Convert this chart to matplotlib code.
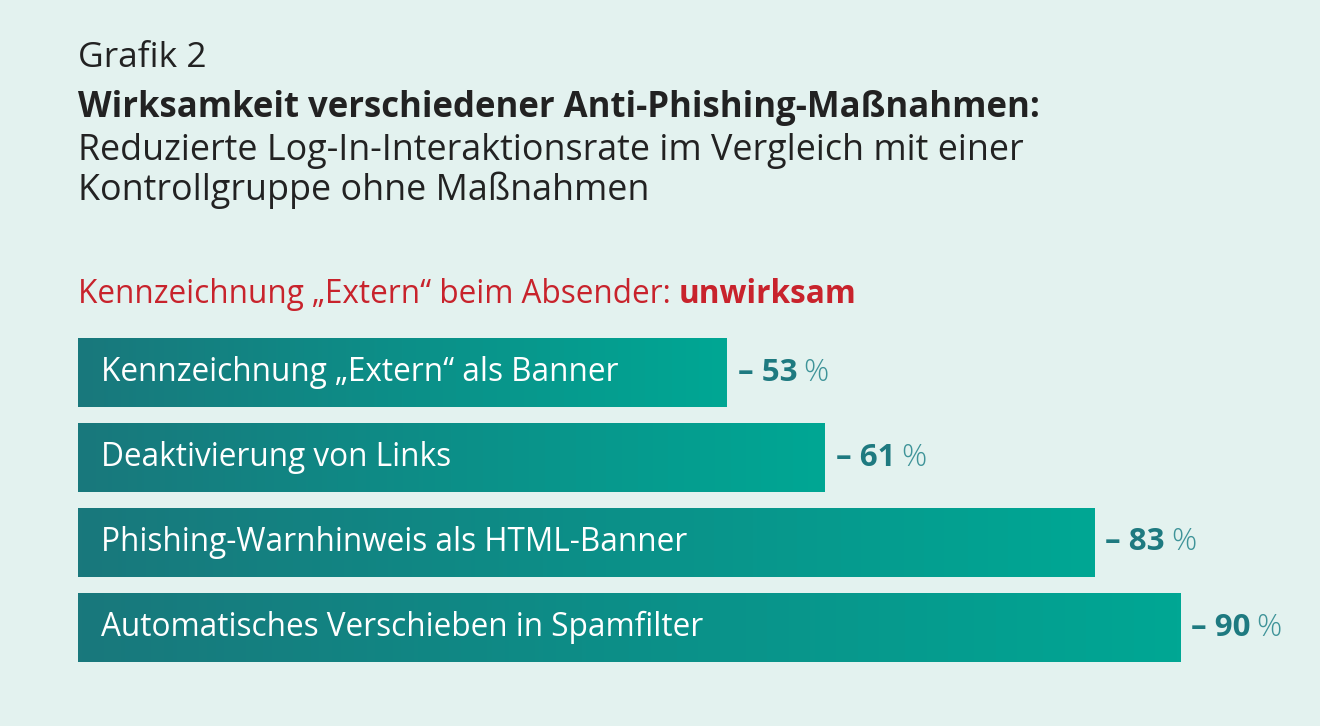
import matplotlib
matplotlib.use("Agg")
import matplotlib.pyplot as plt
import numpy as np
from matplotlib import font_manager
from matplotlib.colors import LinearSegmentedColormap

W, H = 1320, 726

# --- data ---
measures = [
    "Kennzeichnung „Extern“ als Banner",
    "Deaktivierung von Links",
    "Phishing-Warnhinweis als HTML-Banner",
    "Automatisches Verschieben in Spamfilter",
]
reduction = [53, 61, 83, 90]

title_top = "Grafik 2"
title_bold = "Wirksamkeit verschiedener Anti-Phishing-Maßnahmen:"
subtitle = ["Reduzierte Log-In-Interaktionsrate im Vergleich mit einer",
            "Kontrollgruppe ohne Maßnahmen"]
note_regular = "Kennzeichnung „Extern“ beim Absender: "
note_bold = "unwirksam"

BG = "#e3f2ef"
DARK = "#222222"
RED = "#c8232c"
TEAL_TXT = "#1e7a80"

fonts = font_manager.fontManager.ttflist


def weight_num(w):
    if isinstance(w, int):
        return w
    return font_manager.weight_dict.get(w, 400)


def family_with_bold(candidates):
    for name in candidates:
        if any(f.name == name and weight_num(f.weight) >= 700 for f in fonts):
            return name
    return "DejaVu Sans"


MAIN = family_with_bold(["Noto Sans", "Open Sans", "Lato", "Roboto", "Liberation Sans"])

fig = plt.figure(figsize=(W / 100, H / 100), dpi=100, facecolor=BG)


def fx(x):
    return x / W


def fy(y):
    return 1 - y / H


# --- header ---
fig.text(fx(78), fy(67), title_top, fontsize=25.5, family=MAIN, color=DARK, va="baseline")
fig.text(fx(78), fy(117), title_bold, fontsize=25, family=MAIN, weight="bold",
         color=DARK, va="baseline")
for i, line in enumerate(subtitle):
    fig.text(fx(78), fy(160 + 40 * i), line, fontsize=25.8, family=MAIN, color=DARK,
             va="baseline")

renderer = fig.canvas.get_renderer()
t = fig.text(fx(78), fy(303), note_regular, fontsize=22.7, family=MAIN, color=RED,
             va="baseline")
bb = t.get_window_extent(renderer)
fig.text(bb.x1 / W, fy(303), note_bold, fontsize=22.7, family=MAIN, weight="bold",
         color=RED, va="baseline")

# --- bars ---
px_per_unit = 12.245
left_px = 78
ax = fig.add_axes([fx(left_px), fy(670), 1 - fx(left_px), (670 - 330) / H])
ax.axis("off")
ax.set_facecolor("none")

cmap = LinearSegmentedColormap.from_list("teal", ["#19787c", "#0c8f88", "#00a794"])
grad = np.linspace(0, 1, 256).reshape(1, -1)
bar_h = 0.82
y_pos = np.arange(len(measures))
bars = ax.barh(y_pos, reduction, height=bar_h, color="#00a08f", edgecolor="none")
for yi, b, name, val in zip(y_pos, bars, measures, reduction):
    im = ax.imshow(grad, cmap=cmap, aspect="auto",
                   extent=[0, val, yi + bar_h / 2, yi - bar_h / 2], zorder=2)
    im.set_clip_path(b)
    ax.text(23 / px_per_unit, yi, name, fontsize=22.7, family=MAIN, color="white",
            va="center", ha="left", zorder=3)

ax.set_xlim(0, (W - left_px) / px_per_unit)
ax.set_ylim(3.5, -0.5)

for yi, val in zip(y_pos, reduction):
    vt = ax.text(val + 11 / px_per_unit, yi, f"– {val}", fontsize=22.5, family=MAIN,
                 weight="bold", color=TEAL_TXT, va="center", ha="left", zorder=3)
    vb = vt.get_window_extent(renderer)
    ax.annotate("%", xy=(vb.x1 / W, 0), xycoords="figure fraction",
                xytext=(vb.x1 / W + 6 / W, (vb.y0 + vb.y1) / 2 / H),
                textcoords="figure fraction", fontsize=22.5, family=MAIN,
                weight="light", color="#3f9499", va="center", ha="left")

fig.savefig("out.png", dpi=100, facecolor=BG)
